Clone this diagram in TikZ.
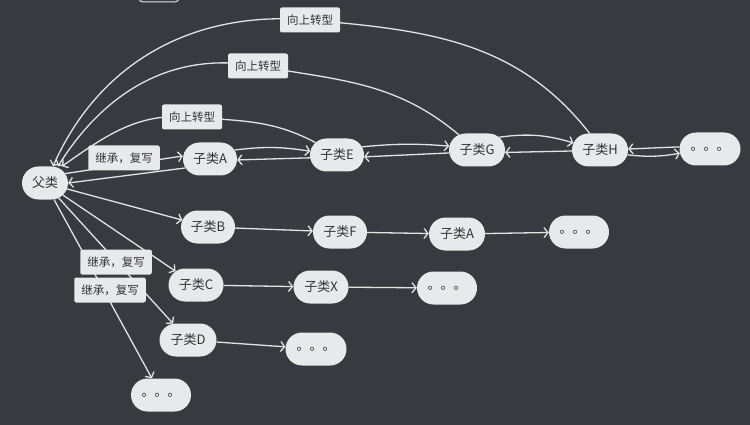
\documentclass[tikz,border=0pt]{standalone}
\usepackage{fontspec}
\usetikzlibrary{arrows.meta,positioning,shapes.misc}
\newfontfamily\cjk{Noto Sans CJK SC}
\definecolor{ClsBack}{HTML}{383A3F}
\definecolor{ClsFill}{HTML}{E8E9EB}
\definecolor{ClsInk}{HTML}{333333}
\definecolor{ClsLine}{HTML}{E2E3E5}
\pgfdeclarelayer{back}
\pgfsetlayers{back,main}

\begin{document}
\begin{tikzpicture}[x=1pt,y=1pt,
  cls/.style={rounded rectangle,fill=ClsFill,text=ClsInk,minimum width=58,
    minimum height=33,inner sep=2pt,font=\cjk\fontsize{13}{15}\selectfont},
  tag/.style={rectangle,rounded corners=2pt,fill=ClsFill,text=ClsInk,
    minimum height=25,inner xsep=7pt,inner ysep=2pt,font=\cjk\fontsize{11.5}{13}\selectfont},
  link/.style={draw=ClsLine,line width=1.3pt,-{Straight Barb[length=4pt,width=10pt]}}]
  \useasboundingbox (0,0) rectangle (750,-425);

  % classes
  \node[cls,minimum width=50] (fu) at (45,-183) {父类};
  \node[cls] (subA) at (210,-159) {子类A};
  \node[cls] (subE) at (337,-155) {子类E};
  \node[cls,minimum width=60] (subG) at (477,-150) {子类G};
  \node[cls,minimum width=60] (subH) at (600,-150) {子类H};
  \node[cls,minimum width=65] (dotsH) at (710,-149) {。。。};
  \node[cls] (subB) at (208,-227) {子类B};
  \node[cls] (subF) at (340,-232) {子类F};
  \node[cls,minimum width=60] (subA2) at (457,-234) {子类A};
  \node[cls,minimum width=64] (dotsA) at (579,-232) {。。。};
  \node[cls,minimum width=59] (subC) at (196,-285) {子类C};
  \node[cls,minimum width=59] (subX) at (321,-287) {子类X};
  \node[cls,minimum width=64] (dotsX) at (447,-288) {。。。};
  \node[cls,minimum width=61] (subD) at (188,-340) {子类D};
  \node[cls,minimum width=65] (dotsD) at (316,-349) {。。。};
  \node[cls,minimum width=64] (dotsFu) at (161,-395) {。。。};

  % labels
  \node[tag] (upE) at (192,-117) {向上转型};
  \node[tag] (upG) at (258,-66) {向上转型};
  \node[tag] (upH) at (310,-20) {向上转型};
  \node[tag] (inhA) at (124,-158) {继承，复写};
  \node[tag] (inhD) at (116,-262) {继承，复写};
  \node[tag] (inhDots) at (110,-290) {继承，复写};

  \begin{pgfonlayer}{back}
    \fill[ClsBack] (0,0) rectangle (750,-425);
    \draw[ClsLine!85,line width=1pt,rounded corners=4pt] (139,8) -- (139,-2) -- (179,-2) -- (179,8);
    % from the parent
    \draw[link] (fu.25) -- ([yshift=3pt]subA.west);
    \draw[link] (subA.200) -- (fu.east);
    \draw[link] (fu) -- (subB);
    \draw[link] (fu) -- (subC);
    \draw[link] (fu) -- (subD);
    \draw[link] (fu) -- (dotsFu);
    % first row, both ways
    \draw[link] (subA.20) to[bend left=8] (subE.172);
    \draw[link] (subE.186) -- (subA.-2);
    \draw[link] (subE.18) to[bend left=5] (subG.172);
    \draw[link] (subG.186) -- (subE.-4);
    \draw[link] (subG.30) to[bend left=12] (subH.165);
    \draw[link] (subH.182) -- (subG.-5);
    \draw[link] (dotsH.176) -- (subH.2);
    \draw[link] (subH.-10) to[bend right=8] (dotsH.188);
    % other rows
    \draw[link] (subB) -- (subF);
    \draw[link] (subF) -- (subA2);
    \draw[link] (subA2) -- (dotsA);
    \draw[link] (subC) -- (subX);
    \draw[link] (subX) -- (dotsX);
    \draw[link] (subD) -- (dotsD);
    % upcasts back to the parent
    \draw[link] (subE.150) to[out=152,in=-5] (upE.center)
      to[out=175,in=35] ([xshift=17pt]fu.north);
    \draw[link] (subG.140) to[out=140,in=-10] (upG.center)
      to[out=170,in=58] ([xshift=13pt]fu.north);
    \draw[link] (subH.122) to[out=128,in=-5] (upH.center)
      to[out=175,in=66] ([xshift=8pt]fu.north);
  \end{pgfonlayer}
\end{tikzpicture}
\end{document}
